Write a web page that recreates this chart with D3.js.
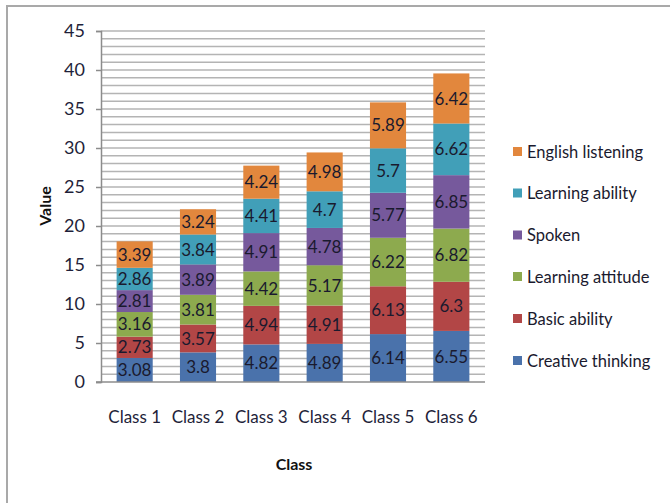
<!DOCTYPE html>
<html>
<head>
  <meta charset="utf-8">
  <script src="https://d3js.org/d3.v7.min.js"></script>
  <style type="text/css">
    body { margin: 0; background: #fff; }
    text { font-family: Lato, "Open Sans", sans-serif; fill: #1f1f3a; }
    .axis-title { font-weight: bold; font-size: 16px; fill: #111; }
  </style>
</head>
<body>
  <script type="text/javascript">
    // Data
    var classes = ["Class 1", "Class 2", "Class 3", "Class 4", "Class 5", "Class 6"];
    var seriesNames = ["Creative thinking", "Basic ability", "Learning attitude", "Spoken", "Learning ability", "English listening"];
    var creativeThinking = [3.08, 3.8, 4.82, 4.89, 6.14, 6.55];
    var basicAbility = [2.73, 3.57, 4.94, 4.91, 6.13, 6.3];
    var learningAttitude = [3.16, 3.81, 4.42, 5.17, 6.22, 6.82];
    var spoken = [2.81, 3.89, 4.91, 4.78, 5.77, 6.85];
    var learningAbility = [2.86, 3.84, 4.41, 4.7, 5.7, 6.62];
    var englishListening = [3.39, 3.24, 4.24, 4.98, 5.89, 6.42];
    var yTicks = [0, 5, 10, 15, 20, 25, 30, 35, 40, 45];
    var colors = ["#4A72AB", "#B24646", "#8DAA4E", "#76599C", "#419FB8", "#E2873D"];

    var seriesValues = [creativeThinking, basicAbility, learningAttitude, spoken, learningAbility, englishListening];

    var width = 670, height = 503;
    var plotLeft = 103, plotRight = 483, plotTop = 31, plotBottom = 382;

    var svg = d3.select("body")
        .append("svg")
        .attr("width", width)
        .attr("height", height);

    // chart frame
    svg.append("rect")
        .attr("x", 7).attr("y", 6)
        .attr("width", 700).attr("height", 600)
        .attr("fill", "none")
        .attr("stroke", "#a9a9a9")
        .attr("stroke-width", 2);

    var x = d3.scaleBand()
        .domain(classes)
        .range([plotLeft, plotRight])
        .paddingInner(0.43)
        .paddingOuter(0.215);

    var y = d3.scaleLinear()
        .domain([0, 45])
        .range([plotBottom, plotTop]);

    // gridlines every 1 unit
    svg.append("g")
        .selectAll("line")
        .data(d3.range(1, 46))
        .enter().append("line")
        .attr("x1", plotLeft - 2).attr("x2", plotRight + 2)
        .attr("y1", function(d){ return y(d); })
        .attr("y2", function(d){ return y(d); })
        .attr("stroke", "#b4b4b4")
        .attr("stroke-width", 1.5);

    // stacked data
    var rows = classes.map(function(c, i){
      var r = {cls: c};
      seriesNames.forEach(function(s, j){ r[s] = seriesValues[j][i]; });
      return r;
    });
    var stack = d3.stack().keys(seriesNames)(rows);

    var layers = svg.append("g")
        .selectAll("g")
        .data(stack)
        .enter().append("g")
        .attr("fill", function(d, i){ return colors[i]; });

    layers.selectAll("rect")
        .data(function(d){ return d; })
        .enter().append("rect")
        .attr("x", function(d){ return x(d.data.cls); })
        .attr("width", x.bandwidth())
        .attr("y", function(d){ return y(d[1]); })
        .attr("height", function(d){ return y(d[0]) - y(d[1]); });

    layers.selectAll("text")
        .data(function(d){ return d.map(function(p){ return {p: p, key: d.key}; }); })
        .enter().append("text")
        .attr("x", function(d){ return x(d.p.data.cls) + x.bandwidth() / 2; })
        .attr("y", function(d){ return (y(d.p[0]) + y(d.p[1])) / 2; })
        .attr("dy", "0.36em")
        .attr("text-anchor", "middle")
        .style("font-size", "17px")
        .style("fill", "#1a1a2e")
        .text(function(d){ return d.p.data[d.key]; });

    // y axis
    var yAxis = svg.append("g")
        .attr("transform", "translate(" + (plotLeft - 2) + ",0)")
        .call(d3.axisLeft(y).tickValues(yTicks).tickSize(5).tickPadding(11));
    yAxis.select(".domain").attr("stroke", "#8c8c8c").attr("stroke-width", 1.5);
    yAxis.selectAll(".tick line").attr("stroke", "#8c8c8c").attr("stroke-width", 1.5);
    yAxis.selectAll(".tick text").style("font-size", "18px").style("font-family", "Lato, sans-serif").attr("fill", "#1f1f3a");

    // x axis baseline
    var xAxis = svg.append("g")
        .attr("transform", "translate(0," + plotBottom + ")")
        .call(d3.axisBottom(x).tickSize(0).tickPadding(29));
    xAxis.select(".domain").attr("d", "M" + (plotLeft - 7) + ",0H" + (plotRight + 2))
        .attr("stroke", "#8c8c8c").attr("stroke-width", 1.5);
    xAxis.selectAll(".tick text").style("font-size", "17px").style("font-family", "Lato, sans-serif").attr("fill", "#1f1f3a");

    // axis titles
    svg.append("text")
        .attr("class", "axis-title")
        .attr("x", 294).attr("y", 470)
        .attr("text-anchor", "middle")
        .text("Class");

    svg.append("text")
        .attr("class", "axis-title")
        .attr("transform", "translate(51,206) rotate(-90)")
        .attr("text-anchor", "middle")
        .text("Value");

    // legend (top to bottom reversed)
    var legendY = [152, 193.5, 235.5, 277, 319, 361];
    var legendItems = seriesNames.slice().reverse();
    var legend = svg.append("g")
        .selectAll("g")
        .data(legendItems)
        .enter().append("g")
        .attr("transform", function(d, i){ return "translate(513," + legendY[i] + ")"; });
    legend.append("rect")
        .attr("x", 0).attr("y", -5)
        .attr("width", 9).attr("height", 9)
        .attr("fill", function(d){ return colors[seriesNames.indexOf(d)]; });
    legend.append("text")
        .attr("x", 14).attr("dy", "0.36em")
        .style("font-size", "16.5px")
        .style("fill", "#1a1a2e")
        .text(function(d){ return d; });
  </script>
</body>
</html>
